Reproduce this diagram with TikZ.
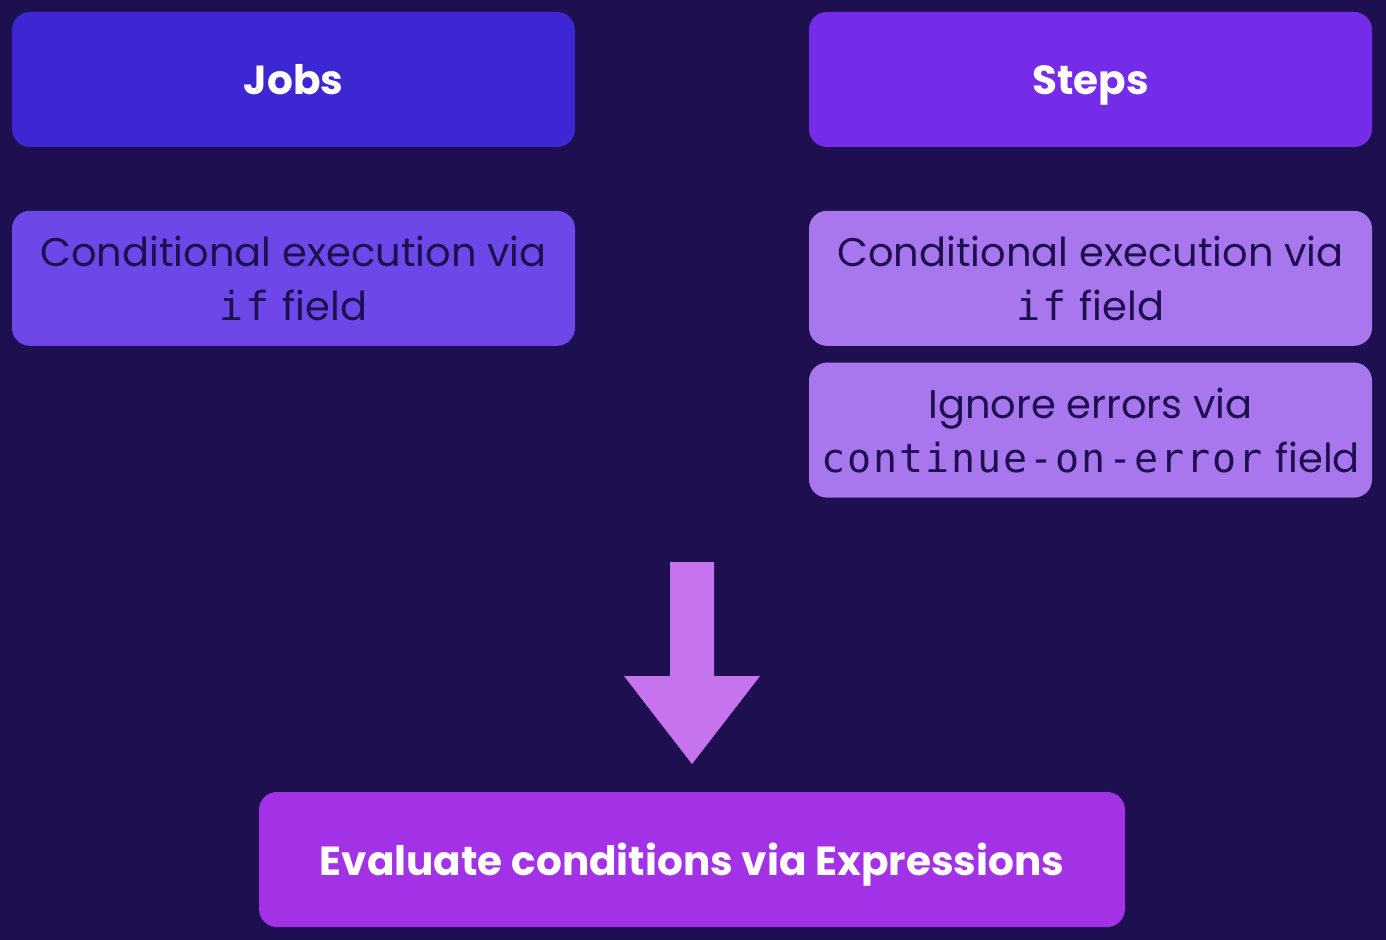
\documentclass[tikz,border=0pt]{standalone}
\usepackage{fontspec}
\setmainfont{Poppins}
\setmonofont{DejaVu Sans Mono}[LetterSpace=5]
\usetikzlibrary{positioning}
\definecolor{bgnavy}{HTML}{1E0F50}
\definecolor{jobsblue}{HTML}{3D27D3}
\definecolor{stepspurple}{HTML}{752CE8}
\definecolor{jobslight}{HTML}{6E47E8}
\definecolor{stepslight}{HTML}{A877EE}
\definecolor{arrowpink}{HTML}{C673EE}
\definecolor{evalpurple}{HTML}{A332E6}
\begin{document}
\begin{tikzpicture}[x=0.5pt,y=-0.5pt,
	box/.style={rounded corners=9pt, minimum width=281.5pt, minimum height=67.5pt, inner sep=0pt, align=center},
	title/.style={box, text=white, text height=15.5pt, text depth=0pt, font=\bfseries\fontsize{20.3}{25}\selectfont},
	body/.style={box, text=bgnavy, font=\fontsize{20}{27}\selectfont}]
	\fill[bgnavy] (0,0) rectangle (1386,940);
	% top row
	\node[title, fill=jobsblue] (jobs) at (293.5,79.5) {Jobs};
	\node[title, fill=stepspurple] (steps) at (1090.5,79.5) {Steps};
	% conditions
	\node[body, fill=jobslight, below=31.5pt of jobs] (jobsif) {Conditional execution via\\\texttt{if} field};
	\node[body, fill=stepslight, below=31.5pt of steps] (stepsif) {Conditional execution via\\\texttt{if} field};
	\node[body, fill=stepslight, below=8pt of stepsif] (stepserr) {Ignore errors via\\\texttt{continue-on-error} field};
	% result
	\node[title, fill=evalpurple, minimum width=433pt] (eval) at (692,859.5) {Evaluate conditions via Expressions};
	\fill[arrowpink] (670,562) -- (714,562) -- (714,676) -- (760,676) -- (692,764) -- (624,676) -- (670,676) -- cycle;
\end{tikzpicture}
\end{document}
